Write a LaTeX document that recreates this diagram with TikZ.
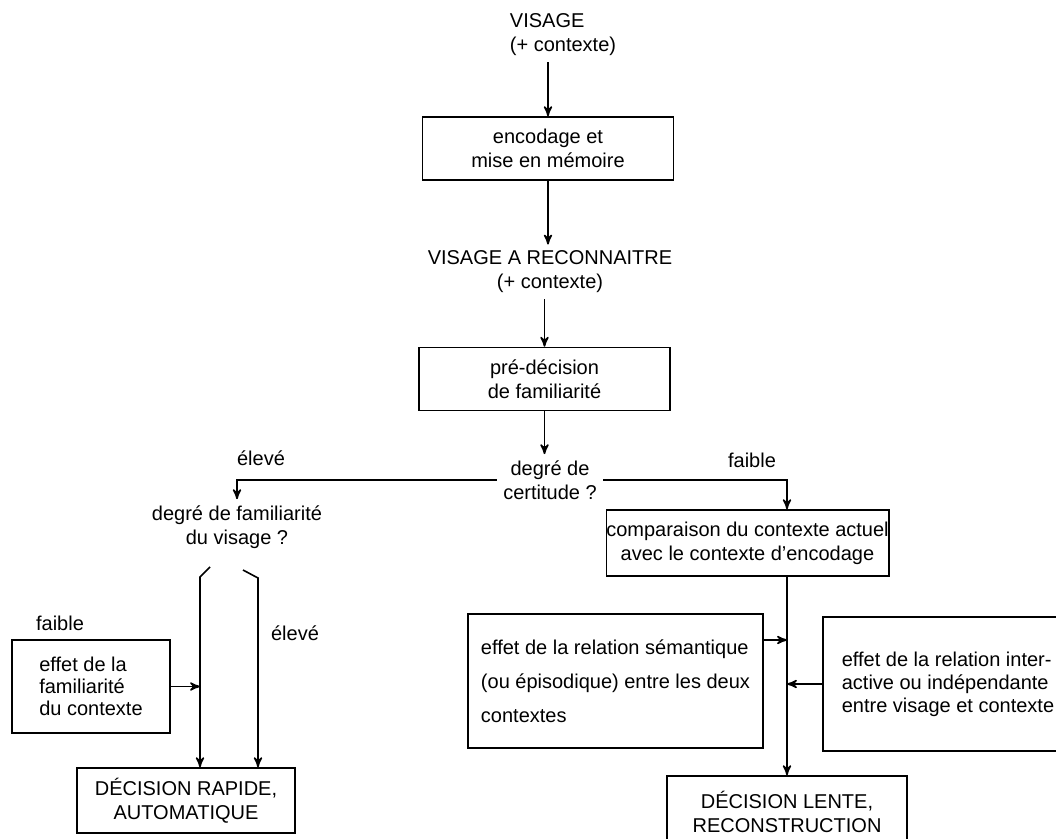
\documentclass[tikz,border=0pt]{standalone}
\usepackage{fontspec}
\setmainfont{Liberation Sans}
\usepackage{tikz}
\usetikzlibrary{arrows}
\tikzstyle{box} = [draw,line width=0.8pt,inner sep=0pt]
\tikzstyle{lbl} = [inner sep=3pt,align=center]

\begin{document}
\begin{tikzpicture}[x=0.5pt,y=-0.5pt,font=\fontsize{10}{12}\selectfont,
post/.style={->,>=stealth',line width=0.8pt}]
    \useasboundingbox (0,0) rectangle (1056,839);
    \clip (0,0) rectangle (1056,839);

    \node[lbl,align=left] (V1) at (563,35) {VISAGE\\(+ contexte)};
    \node[box,minimum width=125.5pt,minimum height=31.5pt,align=center] (E) at (548,148.5) {encodage et\\mise en mémoire};
    \node[lbl] (R) at (550,272) {VISAGE A RECONNAITRE\\(+ contexte)};
    \node[box,minimum width=125.5pt,minimum height=31.5pt,align=center] (P) at (544.5,379) {pré-décision\\de familiarité};
    \node[lbl] (C) at (550,480) {degré de\\certitude ?};
    \node[lbl] (F) at (237,527) {degré de familiarité\\du visage ?};
    \node[box,minimum width=140.5pt,minimum height=33pt,align=center] (K) at (747.5,543) {comparaison du contexte actuel\\avec le contexte d’encodage};
    \node[box,minimum width=79pt,minimum height=46.5pt,align=left,font=\fontsize{10}{11}\selectfont] (B) at (91,686.5) {effet de la\\familiarité\\du contexte};
    \node[box,minimum width=147.5pt,minimum height=67pt,align=left,font=\fontsize{10}{17}\selectfont] (S) at (615.5,681) {effet de la relation sémantique\\(ou épisodique) entre les deux\\contextes};
    \node[box,minimum width=125pt,minimum height=67pt,align=left,font=\fontsize{10}{11.5}\selectfont] (T) at (948,684) {effet de la relation inter-\\active ou indépendante\\entre visage et contexte};
    \node[box,minimum width=109pt,minimum height=32.5pt,align=center] (D) at (186,800.5) {DÉCISION RAPIDE,\\AUTOMATIQUE};
    \node[box,minimum width=120pt,minimum height=36pt,align=center] (L) at (787,812) {DÉCISION LENTE,\\RECONSTRUCTION};

    \node[lbl] (elevL) at (261,458) {élevé};
    \node[lbl] (faibR) at (752,460) {faible};
    \node[lbl] (faibL) at (60,623) {faible};
    \node[lbl] (elevR) at (295,633) {élevé};

    \coordinate (f1) at (210,567);
    \coordinate (lb) at (200,577);
    \coordinate (f2) at (243,570);
    \coordinate (rb) at (258,578);
    \coordinate (s1) at (763,640);

    \draw[post] (V1.south -| E.north) -- (E.north);
    \draw[post] (E.south) -- (E.south |- R.north);
    \draw[post] (R.south -| P.north) -- (P.north);
    \draw[post] (P.south) -- (P.south |- C.north);
    \draw[post] (C.west) -| (F.north);
    \draw[post] (C.east) -| (K.north -| L.north);
    \draw[post] (K.south -| L.north) -- (L.north);
    \draw[post] (s1) -- (s1 -| L.north);
    \draw[post] (T.west) -- (T.west -| L.north);

    \draw[post] (f1) -- (lb) -- (lb |- D.north);
    \draw[post] (f2) -- (rb) -- (rb |- D.north);
    \draw[post] (B.east) -- (B.east -| lb);

\end{tikzpicture}
\end{document}
